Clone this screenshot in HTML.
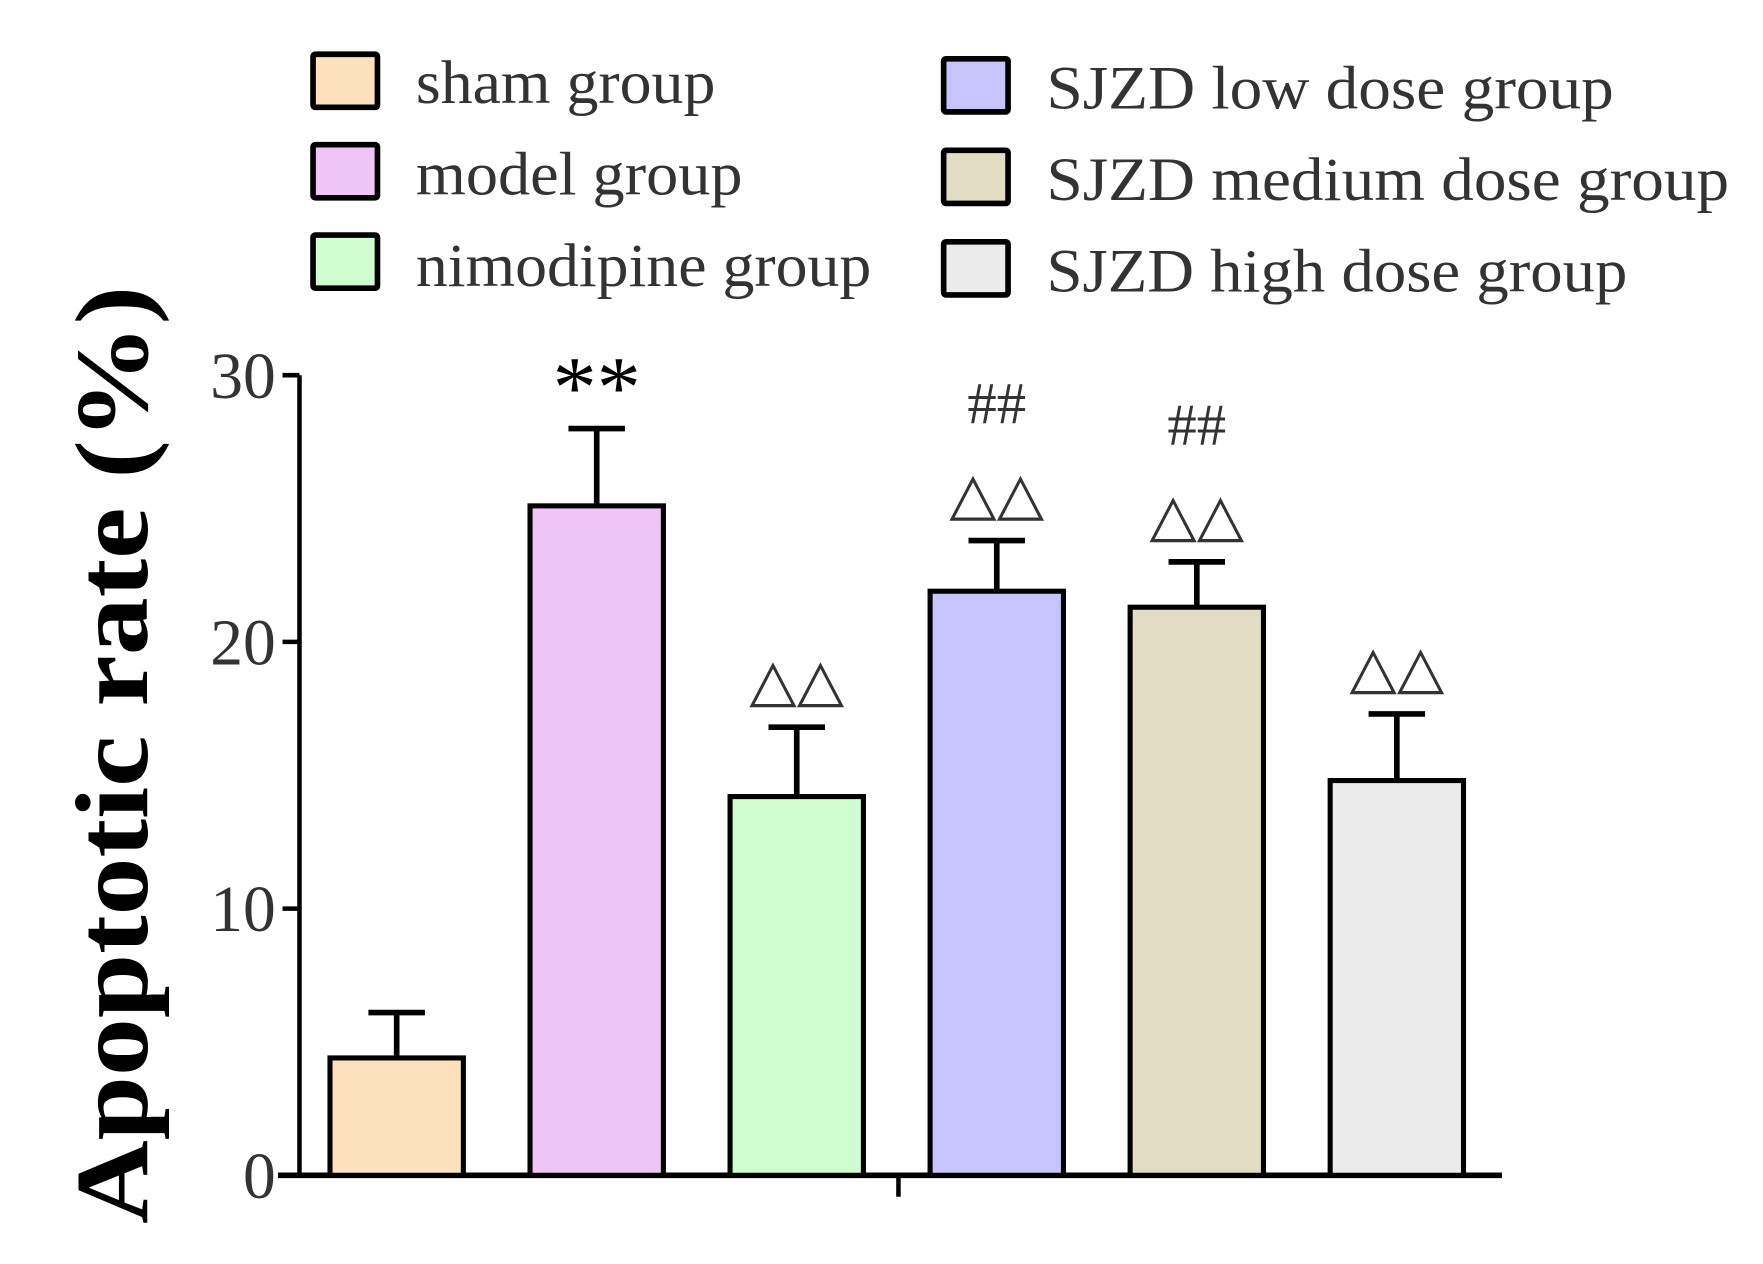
<!DOCTYPE html>
<html><head><meta charset="utf-8"><style>html,body{margin:0;padding:0;background:#fff}svg{display:block}</style></head>
<body>
<svg id="chart" width="1763" height="1264" viewBox="0 0 1560 1118.5" preserveAspectRatio="none" xmlns="http://www.w3.org/2000/svg" font-family="'Liberation Serif', serif">
<g id="legend"></g>
<g id="axes"></g>
<g id="bars"></g>
<text transform="translate(130,668) rotate(-90)" text-anchor="middle" font-size="92" font-weight="bold" fill="#000" textLength="830" lengthAdjust="spacingAndGlyphs">Apoptotic rate (%)</text>
</svg>
<script>
const categories = ["sham group","model group","nimodipine group","SJZD low dose group","SJZD medium dose group","SJZD high dose group"];
const values = [4.4, 25.1, 14.2, 21.9, 21.3, 14.8];
const errors = [1.7, 2.9, 2.6, 1.9, 1.7, 2.5];
const colors = ["#fde0bd","#efc5f7","#cffdd0","#c6c4fb","#e2dcc4","#ebebeb"];
const annotations = [[], ["**"], ["△△"], ["△△","##"], ["△△","##"], ["△△"]];
const yTicks = [0, 10, 20, 30];

const NS = "http://www.w3.org/2000/svg";
const svg = document.getElementById('chart');
function mk(tag, attrs, parent, text) {
  const e = document.createElementNS(NS, tag);
  for (const k in attrs) e.setAttribute(k, attrs[k]);
  if (text !== undefined) e.textContent = text;
  parent.appendChild(e);
  return e;
}
const y0 = 1040, yTop = 332, yMax = 30;
function yScale(v) { return y0 - (v / yMax) * (y0 - yTop); }
const firstCenter = 351, step = 177, barW = 118;
function xScale(i) { return firstCenter + i * step; }

const axes = document.getElementById('axes');
let l = mk('line', {x1:265, y1:yTop, x2:265, y2:y0+2, stroke:'#000', 'stroke-width':4}, axes);


l = mk('line', {x1:246, y1:y0, x2:1329, y2:y0, stroke:'#000', 'stroke-width':5}, axes);


l = mk('line', {x1:795, y1:y0, x2:795, y2:1059, stroke:'#000', 'stroke-width':4}, axes);


yTicks.forEach(t => {
  const y = yScale(t);
  const tk = mk('line', {x1:250, y1:y, x2:265, y2:y, stroke:'#000', 'stroke-width':4}, axes);
  
  
  const lb = mk('text', {x:244, y:y+20, 'text-anchor':'end', 'font-size':58, fill:'#333'}, axes, String(t));
  
  
});

const bars = document.getElementById('bars');
values.forEach((v, i) => {
  const cx = xScale(i), top = yScale(v), et = yScale(v + errors[i]);
  const eb = mk('path', {d:`M${cx},${top} L${cx},${et} M${cx-25},${et} L${cx+25},${et}`, stroke:'#000', 'stroke-width':5, fill:'none'}, bars);
  
  
  const r = mk('rect', {x:cx-barW/2, y:top, width:barW, height:y0-top, fill:colors[i], stroke:'#000', 'stroke-width':4.5}, bars);
  
  
  let ay = et - 24;
  annotations[i].forEach(a => {
    const star = a === "**";
    const tri = a.indexOf("△") >= 0;
    const attrs = {x:cx, y: star ? ay + 14 : ay, 'text-anchor':'middle', 'font-size': star ? 78 : 52, fill: star ? '#000' : '#333'};
    if (tri) { attrs['font-family'] = "'DejaVu Sans', sans-serif"; attrs['textLength'] = 84; attrs['lengthAdjust'] = 'spacingAndGlyphs'; }
    const t = mk('text', attrs, bars, a);
    
    
    ay -= 80;
  });
});

const legend = document.getElementById('legend');
const legPos = [[277,48,368,91,265],[277,128,368,172,289],[277,208,368,253,403],[835,52,926,96,502],[835,133,926,177,604],[835,214,926,258,514]];
categories.forEach((c, i) => {
  const p = legPos[i];
  const r = mk('rect', {x:p[0], y:p[1], width:57, height:47, fill:colors[i], stroke:'#000', 'stroke-width':5, rx:2}, legend);
  
  
  const t = mk('text', {x:p[2], y:p[3], 'font-size':54, fill:'#333', textLength:p[4], lengthAdjust:'spacingAndGlyphs'}, legend, c);
  
  
});
</script>
</body></html>
